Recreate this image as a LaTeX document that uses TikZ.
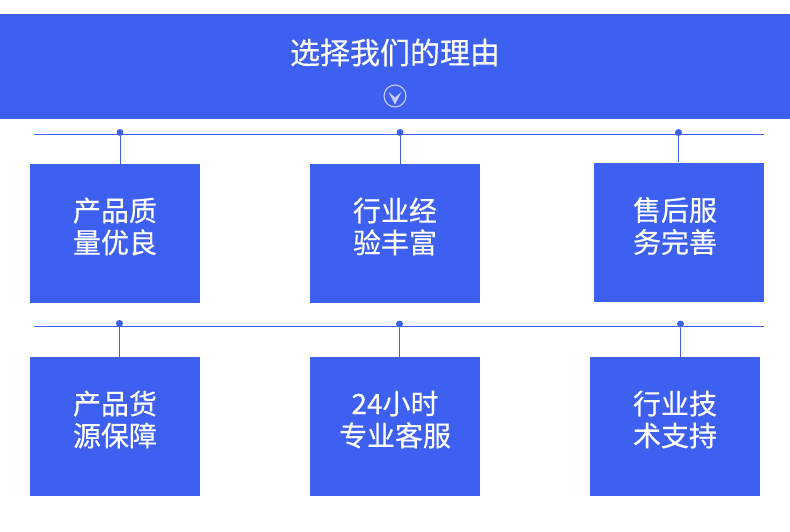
\documentclass[tikz,border=0pt]{standalone}
\usepackage{fontspec}
\newfontfamily\cjk{Noto Sans CJK SC}[AutoFakeBold=0.35]
\usetikzlibrary{positioning}
\definecolor{brand}{HTML}{3E60F0}
\definecolor{iconsoft}{HTML}{C9CDF9}

\begin{document}
\begin{tikzpicture}[x=1pt, y=-1pt,
  banner/.style={fill=brand, draw=none, minimum width=790pt, minimum height=105pt, inner sep=0pt},
  card/.style={fill=brand, draw=none, minimum width=170pt, minimum height=139pt, inner sep=0pt},
  cardtxt/.style={text=white, align=center, font=\cjk\bfseries\fontsize{28}{32}\selectfont, inner sep=0pt},
  rail/.style={draw=brand, line width=1pt},
  pin/.style={circle, fill=brand, inner sep=0pt, minimum size=7pt},
]
\useasboundingbox (0,0) rectangle (790,531);
% header
\node[banner] (head) at (395,66.5) {};
\node[text=white, font=\cjk\bfseries\fontsize{30}{36}\selectfont, inner sep=0pt] (title) at (395,52.5) {选择我们的理由};
\node[circle, draw=iconsoft, line width=1.1pt, minimum size=22pt, inner sep=0pt] (chev) at (395,96) {};
\fill[iconsoft] (388.5,92) -- (395,104.5) -- (401.5,92) -- (395,97.5) -- cycle;
% rails
\coordinate (r1w) at (34,134.3);
\coordinate (r1e) at (764,134.3);
\coordinate (r2w) at (34,326);
\coordinate (r2e) at (764,326);
\draw[rail] (r1w) -- (r1e);
\draw[rail] (r2w) -- (r2e);
% cards
\node[card] (q1) at (115,233.5) {};
\node[card] (q2) at (395,233.5) {};
\node[card] (q3) at (679,232) {};
\node[card] (q4) at (115,426.5) {};
\node[card] (q5) at (395,426.5) {};
\node[card] (q6) at (675,426.5) {};
\node[cardtxt] at ([yshift=7pt]q1.center) {产品质\\量优良};
\node[cardtxt] at ([yshift=7pt]q2.center) {行业经\\验丰富};
\node[cardtxt] at ([xshift=-4pt,yshift=6pt]q3.center) {售后服\\务完善};
\node[cardtxt] at ([yshift=7pt]q4.center) {产品货\\源保障};
\node[cardtxt] at ([yshift=7pt]q5.center) {24小时\\专业客服};
\node[cardtxt] at ([yshift=7pt]q6.center) {行业技\\术支持};
% pins
\node[pin] (p1) at (120,132.5) {};
\node[pin] (p2) at (400,132.5) {};
\node[pin] (p3) at (678.5,132.5) {};
\node[pin] (p4) at (119.5,323.5) {};
\node[pin] (p5) at (399.5,324) {};
\node[pin] (p6) at (680.5,324) {};
\draw[rail] (p1) -- (p1 |- q1.north);
\draw[rail] (p2) -- (p2 |- q2.north);
\draw[rail] (p3) -- (p3 |- q3.north);
\draw[rail] (p4) -- (p4 |- q4.north);
\draw[rail] (p5) -- (p5 |- q5.north);
\draw[rail] (p6) -- (p6 |- q6.north);
\end{tikzpicture}
\end{document}
